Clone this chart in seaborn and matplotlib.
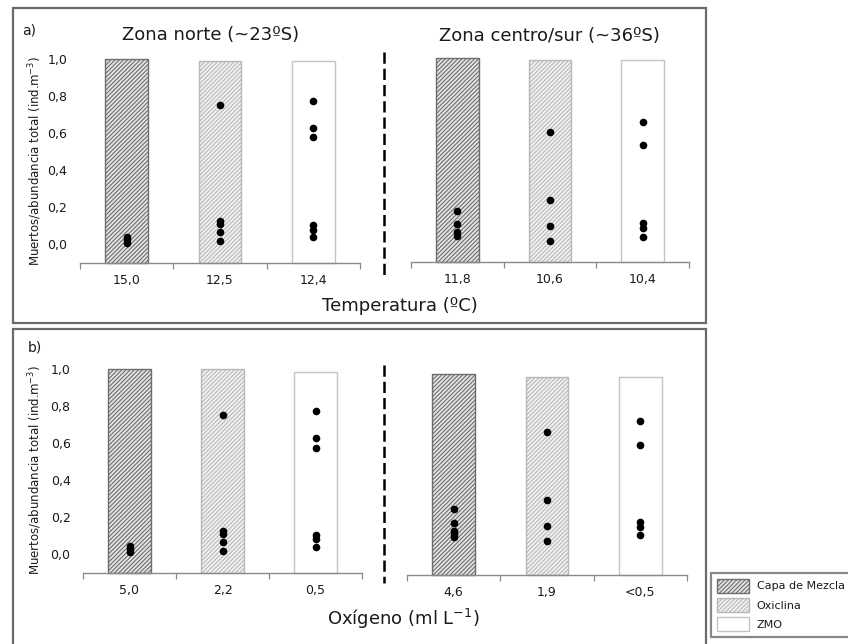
import matplotlib
matplotlib.use("Agg")
import matplotlib.pyplot as plt
import seaborn as sns
import pandas as pd
from matplotlib.patches import Rectangle, Patch
from matplotlib.lines import Line2D

# ---------------- data ----------------
layers = ["Capa de Mezcla", "Oxiclina", "ZMO"]

temp_norte_labels = ["15,0", "12,5", "12,4"]
temp_sur_labels = ["11,8", "10,6", "10,4"]
oxi_norte_labels = ["5,0", "2,2", "0,5"]
oxi_sur_labels = ["4,6", "1,9", "<0,5"]

temp_norte_bars = [1.0, 0.99, 0.99]
temp_sur_bars = [1.0, 0.99, 0.99]
oxi_norte_bars = [1.0, 1.0, 0.985]
oxi_sur_bars = [0.985, 0.97, 0.97]

temp_norte_capa = [0.035, 0.02, 0.005]
temp_norte_oxic = [0.75, 0.12, 0.105, 0.065, 0.015]
temp_norte_zmo = [0.77, 0.625, 0.575, 0.10, 0.073, 0.035]

temp_sur_capa = [0.17, 0.10, 0.055, 0.035]
temp_sur_oxic = [0.60, 0.23, 0.09, 0.01]
temp_sur_zmo = [0.655, 0.53, 0.105, 0.08, 0.03]

oxi_norte_capa = [0.04, 0.025, 0.01]
oxi_norte_oxic = [0.75, 0.12, 0.105, 0.065, 0.015]
oxi_norte_zmo = [0.77, 0.625, 0.57, 0.10, 0.077, 0.036]

oxi_sur_capa = [0.25, 0.175, 0.135, 0.115, 0.10]
oxi_sur_oxic = [0.67, 0.30, 0.16, 0.08]
oxi_sur_zmo = [0.73, 0.60, 0.18, 0.155, 0.11]

y_ticks = [0.0, 0.2, 0.4, 0.6, 0.8, 1.0]
y_tick_labels = ["0,0", "0,2", "0,4", "0,6", "0,8", "1,0"]

# ---------------- style ----------------
W, H = 848, 644
YMIN, YMAX = -0.105, 1.0

sns.set_theme(style="white")
plt.rcParams["font.family"] = ["DejaVu Sans"]
plt.rcParams["hatch.linewidth"] = 0.8

styles = {
    "Capa de Mezcla": dict(facecolor="#e4e4e4", edgecolor="#6e6e6e", hatch="////////"),
    "Oxiclina": dict(facecolor="#f2f2f2", edgecolor="#b8b8b8", hatch="////////"),
    "ZMO": dict(facecolor="white", edgecolor="#c4c4c4", hatch=""),
}

fig = plt.figure(figsize=(W / 100, H / 100), dpi=100)


def fx(px):
    return px / W


def fy(py):
    return 1 - py / H


def make_axes(x0, x1, ytop, ybot):
    return fig.add_axes([fx(x0), fy(ybot), fx(x1 - x0), (ybot - ytop) / H])


def draw_panel(ax, labels, bars, dots, show_y):
    sns.barplot(x=labels, y=bars, ax=ax, width=0.46, order=labels)
    for patch, layer in zip(ax.patches, layers):
        h = patch.get_height()
        patch.set_y(YMIN)
        patch.set_height(h - YMIN)
        st = styles[layer]
        patch.set_facecolor(st["facecolor"])
        patch.set_edgecolor(st["edgecolor"])
        patch.set_hatch(st["hatch"])
        patch.set_linewidth(1.0)
        patch.set_clip_on(False)
    rows = []
    for lab, vals in zip(labels, dots):
        for v in vals:
            rows.append({"cat": lab, "val": v})
    df = pd.DataFrame(rows)
    sns.stripplot(data=df, x="cat", y="val", order=labels, jitter=False,
                  color="black", size=5.5, ax=ax, zorder=4)
    ax.set_xlim(-0.5, 2.5)
    ax.set_ylim(YMIN, YMAX)
    ax.set_xlabel("")
    ax.set_ylabel("")
    for s in ["left", "right", "top"]:
        ax.spines[s].set_visible(False)
    ax.spines["bottom"].set_color("#8a8a8a")
    ax.spines["bottom"].set_linewidth(1.0)
    ax.set_facecolor("none")
    ax.set_xticks([0, 1, 2])
    ax.set_xticklabels(labels, fontsize=9, color="#1a1a1a")
    ax.set_xticks([-0.5, 0.5, 1.5, 2.5], minor=True)
    ax.tick_params(axis="x", which="major", length=0, pad=8)
    ax.tick_params(axis="x", which="minor", length=4, width=0.9,
                   color="#8a8a8a", direction="out", bottom=True)
    ax.set_yticks(y_ticks)
    if show_y:
        ax.set_yticklabels(y_tick_labels, fontsize=9, color="#1a1a1a")
        ax.tick_params(axis="y", length=0, pad=9)
    else:
        ax.set_yticklabels([])
        ax.tick_params(axis="y", length=0)
    ax.grid(False)


ax1 = make_axes(80, 360, 59, 263)
ax2 = make_axes(411, 689, 58, 262)
ax3 = make_axes(83, 362, 369, 573)
ax4 = make_axes(407, 687, 371, 575)

draw_panel(ax1, temp_norte_labels, temp_norte_bars,
           [temp_norte_capa, temp_norte_oxic, temp_norte_zmo], True)
draw_panel(ax2, temp_sur_labels, temp_sur_bars,
           [temp_sur_capa, temp_sur_oxic, temp_sur_zmo], False)
draw_panel(ax3, oxi_norte_labels, oxi_norte_bars,
           [oxi_norte_capa, oxi_norte_oxic, oxi_norte_zmo], True)
draw_panel(ax4, oxi_sur_labels, oxi_sur_bars,
           [oxi_sur_capa, oxi_sur_oxic, oxi_sur_zmo], False)

# panel frames
frame_kw = dict(transform=fig.transFigure, fill=False, edgecolor="#6a6a6a",
                linewidth=1.6, zorder=0)
fig.add_artist(Rectangle((fx(13), fy(323)), fx(706 - 13), (323 - 8) / H, **frame_kw))
fig.add_artist(Rectangle((fx(13), fy(650)), fx(706 - 13), (650 - 329) / H, **frame_kw))

# dashed separators
for ytop, ybot in [(52, 278), (365, 583)]:
    fig.add_artist(Line2D([fx(384), fx(384)], [fy(ytop), fy(ybot)],
                          transform=fig.transFigure, color="black",
                          linewidth=1.8, dashes=(4.5, 2.0)))

# texts
ylab = "Muertos/abundancia total (ind.m$^{-3}$)"
fig.text(fx(35), fy(161), ylab, rotation=90, ha="center", va="center",
         fontsize=8.5, color="#1a1a1a")
fig.text(fx(35), fy(470), ylab, rotation=90, ha="center", va="center",
         fontsize=8.5, color="#1a1a1a")
fig.text(fx(22), fy(30), "a)", ha="left", va="center", fontsize=10, color="#1a1a1a")
fig.text(fx(28), fy(347), "b)", ha="left", va="center", fontsize=10, color="#1a1a1a")
fig.text(fx(211), fy(35), "Zona norte (~23ºS)", ha="center", va="center",
         fontsize=13, color="#1a1a1a")
fig.text(fx(549), fy(36), "Zona centro/sur (~36ºS)", ha="center", va="center",
         fontsize=13, color="#1a1a1a")
fig.text(fx(400), fy(306), "Temperatura (ºC)", ha="center", va="center",
         fontsize=13, color="#1a1a1a")
fig.text(fx(403), fy(619), "Oxígeno (ml L$^{-1}$)", ha="center", va="center",
         fontsize=13, color="#1a1a1a")

# legend
handles = [Patch(facecolor=styles[l]["facecolor"], edgecolor=styles[l]["edgecolor"],
                 hatch=styles[l]["hatch"], linewidth=1.0) for l in layers]
leg = fig.legend(handles, layers, loc="upper left",
                 bbox_to_anchor=(fx(711), fy(573)), bbox_transform=fig.transFigure,
                 frameon=True, fancybox=False, fontsize=8, handlelength=2.9,
                 handleheight=1.6, labelspacing=0.45, handletextpad=0.7,
                 borderpad=0.5, borderaxespad=0)
leg.get_frame().set_edgecolor("#6a6a6a")
leg.get_frame().set_linewidth(1.6)
for t in leg.get_texts():
    t.set_color("#1a1a1a")

fig.savefig("out.png", dpi=100)
